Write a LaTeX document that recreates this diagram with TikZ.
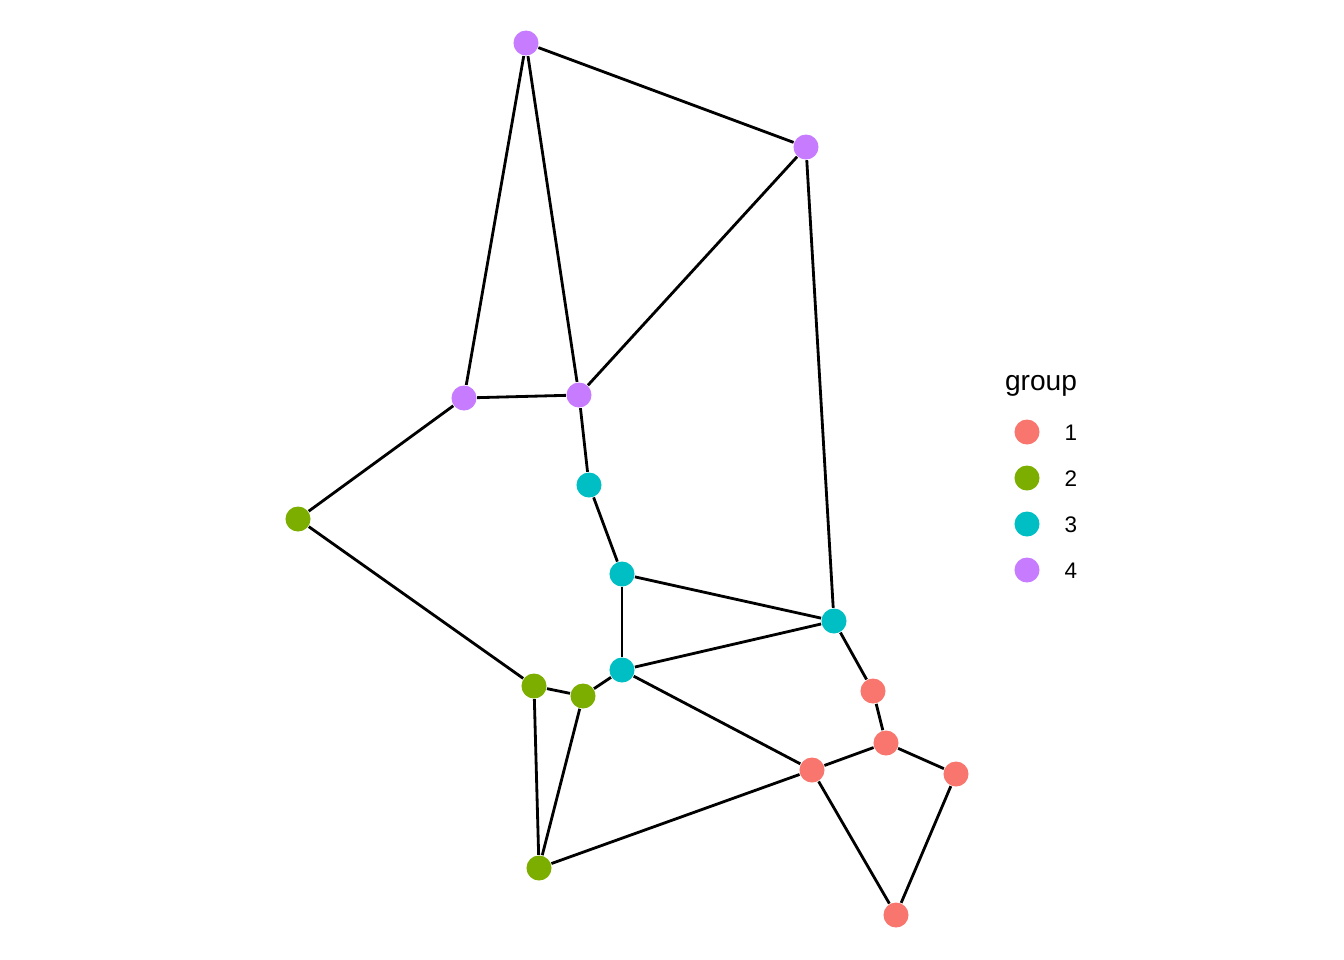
\documentclass[tikz,border=0pt]{standalone}
\usepackage{fontspec}
\setmainfont{Liberation Sans}
\definecolor{g1}{HTML}{F8766D}
\definecolor{g2}{HTML}{7CAE00}
\definecolor{g3}{HTML}{00BFC4}
\definecolor{g4}{HTML}{C77CFF}
\tikzset{pt/.style={circle, fill=#1, inner sep=0pt, minimum size=0.25cm}}
\begin{document}
\begin{tikzpicture}[x=0.01cm, y=-0.01cm]
\useasboundingbox (0,0) rectangle (1344,960);
\node[pt=g4] (1) at (526,43) {};
\node[pt=g4] (2) at (806,147) {};
\node[pt=g4] (3) at (464,398) {};
\node[pt=g4] (4) at (579,395) {};
\node[pt=g3] (5) at (589,485) {};
\node[pt=g3] (6) at (622,574) {};
\node[pt=g3] (7) at (834,621) {};
\node[pt=g3] (8) at (622,670) {};
\node[pt=g2] (9) at (298,519) {};
\node[pt=g2] (10) at (534,686) {};
\node[pt=g2] (11) at (583,696) {};
\node[pt=g2] (12) at (539,868) {};
\node[pt=g1] (13) at (873,691) {};
\node[pt=g1] (14) at (886,743) {};
\node[pt=g1] (15) at (812,770) {};
\node[pt=g1] (16) at (956,774) {};
\node[pt=g1] (17) at (896,915) {};
\path[draw,line width=0.8pt,-] (1) -- (2);
\path[draw,line width=0.8pt,-] (1) -- (3);
\path[draw,line width=0.8pt,-] (1) -- (4);
\path[draw,line width=0.8pt,-] (2) -- (4);
\path[draw,line width=0.8pt,-] (2) -- (7);
\path[draw,line width=0.8pt,-] (3) -- (4);
\path[draw,line width=0.8pt,-] (3) -- (9);
\path[draw,line width=0.8pt,-] (4) -- (5);
\path[draw,line width=0.8pt,-] (5) -- (6);
\path[draw,line width=0.8pt,-] (6) -- (7);
\path[draw,line width=0.8pt,-] (6) -- (8);
\path[draw,line width=0.8pt,-] (8) -- (7);
\path[draw,line width=0.8pt,-] (8) -- (11);
\path[draw,line width=0.8pt,-] (8) -- (15);
\path[draw,line width=0.8pt,-] (9) -- (10);
\path[draw,line width=0.8pt,-] (10) -- (11);
\path[draw,line width=0.8pt,-] (10) -- (12);
\path[draw,line width=0.8pt,-] (11) -- (12);
\path[draw,line width=0.8pt,-] (12) -- (15);
\path[draw,line width=0.8pt,-] (15) -- (14);
\path[draw,line width=0.8pt,-] (14) -- (13);
\path[draw,line width=0.8pt,-] (13) -- (7);
\path[draw,line width=0.8pt,-] (14) -- (16);
\path[draw,line width=0.8pt,-] (16) -- (17);
\path[draw,line width=0.8pt,-] (15) -- (17);
% legend
\node[font=\fontsize{8}{10}\selectfont] (t) at (1041,386) {group};
\node[pt=g1] (k1) at (1027,432) {};
\node[pt=g2] (k2) at (1027,478) {};
\node[pt=g3] (k3) at (1027,524) {};
\node[pt=g4] (k4) at (1027,570) {};
\node[font=\fontsize{6.4}{8}\selectfont] (l1) at (1071,433) {1};
\node[font=\fontsize{6.4}{8}\selectfont] (l2) at (1071,479) {2};
\node[font=\fontsize{6.4}{8}\selectfont] (l3) at (1071,525) {3};
\node[font=\fontsize{6.4}{8}\selectfont] (l4) at (1071,571) {4};
\end{tikzpicture}
\end{document}
